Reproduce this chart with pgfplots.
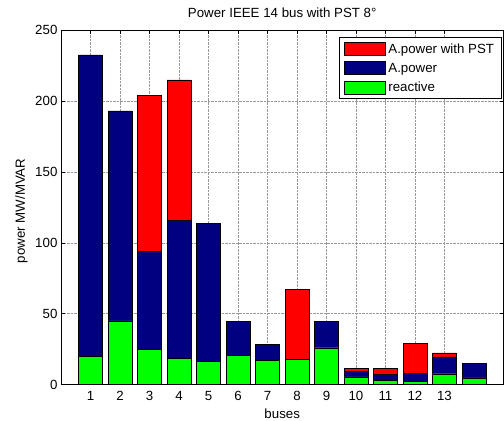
\documentclass[border=0pt]{standalone}
\usepackage{pgfplots}
\pgfplotsset{compat=1.18}
\usepackage{fontspec}
\setmainfont{Liberation Sans}
\definecolor{mred}{RGB}{255,0,0}
\definecolor{mblue}{RGB}{0,0,128}
\definecolor{mgreen}{RGB}{0,255,0}
\begin{document}
\begin{tikzpicture}
\begin{axis}[
  name=ax,
  scale only axis,
  width=443pt, height=355pt,
  xmin=0, xmax=15, ymin=0, ymax=250,
  xtick={1,...,13}, ytick={0,50,...,250},
  ybar, bar width=0.8, bar shift=0pt,
  grid=major,
  major grid style={densely dotted, gray!80},
  tick align=inside,
  major tick length=4pt,
  tick style={black, thin},
  axis line style={black, thin},
  /pgf/number format/assume math mode=true,
  tick label style={font=\fontsize{13.3}{15}\selectfont},
  xticklabel style={yshift=-3pt},
  label style={font=\fontsize{13.3}{15}\selectfont},
  title style={font=\fontsize{13.3}{15}\selectfont, at={(axis description cs:0.5,1.031)}, anchor=center},
  title={Power IEEE 14 bus with PST 8°},
  xlabel={buses},
  ylabel={power MW/MVAR},
  xlabel style={at={(axis description cs:0.5,-0.0817)}, anchor=center},
  ylabel style={at={(axis description cs:-0.089,0.49)}, anchor=center},
  legend style={at={(axis description cs:0.9966,0.979)}, anchor=north east, draw=black, line width=1pt,
    font=\fontsize{13.3}{15}\selectfont, row sep=5.7pt, inner xsep=5pt, inner ysep=4.3pt,
    nodes={inner xsep=2.5pt, inner ysep=1pt}},
  legend cell align=left,
  legend image code/.code={\draw[#1, line width=0.6pt] (0pt,-6.5pt) rectangle (41pt,6.5pt);},
]
\addplot[fill=mred, draw=black] coordinates {(3,203.7) (4,214.8) (8,67.1) (10,11.5) (11,11.5) (12,29.1) (13,22.3)};
\addplot[fill=mblue, draw=black] coordinates {(1,232.4) (2,193) (3,94) (4,116) (5,113.8) (6,44.4) (7,28.2) (9,44.4) (10,9.2) (11,7) (12,8) (13,19.5) (14,15)};
\addplot[fill=mgreen, draw=black] coordinates {(1,20) (2,45) (3,25) (4,18.5) (5,16.4) (6,20.7) (7,17) (8,17.8) (9,26) (10,5.4) (11,3) (12,2.3) (13,7.7) (14,4.7)};
\legend{A.power with PST, A.power, reactive}
\end{axis}
\pgfresetboundingbox
\path ([xshift=-61pt,yshift=-36pt]ax.south west) rectangle ([xshift=0.5pt,yshift=30pt]ax.north east);
\end{tikzpicture}
\end{document}
